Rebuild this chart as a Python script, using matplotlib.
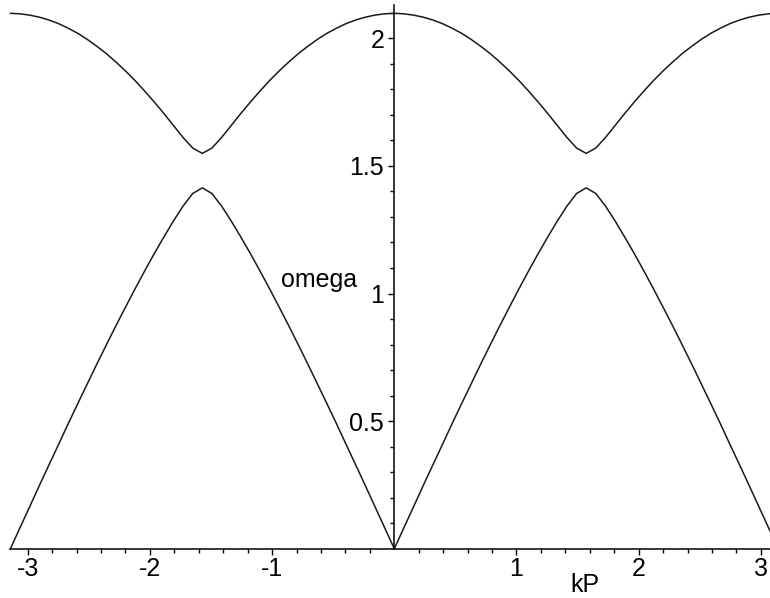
import matplotlib
matplotlib.use("Agg")
from matplotlib import pyplot as plt
import numpy as np

plt.rcParams['font.family'] = ['Liberation Sans', 'DejaVu Sans']

# wave number times lattice spacing, -pi .. pi
kP = [-3.1416, -3.0631, -2.9845, -2.9060, -2.8274, -2.7489, -2.6704, -2.5918, -2.5133, -2.4347,
      -2.3562, -2.2777, -2.1991, -2.1206, -2.0420, -1.9635, -1.8850, -1.8064, -1.7279, -1.6493,
      -1.5708, -1.4923, -1.4137, -1.3352, -1.2566, -1.1781, -1.0996, -1.0210, -0.9425, -0.8639,
      -0.7854, -0.7069, -0.6283, -0.5498, -0.4712, -0.3927, -0.3142, -0.2356, -0.1571, -0.0785,
      0.0,
      0.0785, 0.1571, 0.2356, 0.3142, 0.3927, 0.4712, 0.5498, 0.6283, 0.7069, 0.7854,
      0.8639, 0.9425, 1.0210, 1.0996, 1.1781, 1.2566, 1.3352, 1.4137, 1.4923, 1.5708,
      1.6493, 1.7279, 1.8064, 1.8850, 1.9635, 2.0420, 2.1206, 2.1991, 2.2777, 2.3562,
      2.4347, 2.5133, 2.5918, 2.6704, 2.7489, 2.8274, 2.9060, 2.9845, 3.0631, 3.1416]

# upper (optical) branch
omega_opt = [2.098, 2.096, 2.091, 2.083, 2.072, 2.058, 2.040, 2.020, 1.996, 1.969,
             1.940, 1.907, 1.872, 1.834, 1.793, 1.750, 1.705, 1.658, 1.611, 1.570,
             1.549, 1.570, 1.611, 1.658, 1.705, 1.750, 1.793, 1.834, 1.872, 1.907,
             1.940, 1.969, 1.996, 2.020, 2.040, 2.058, 2.072, 2.083, 2.091, 2.096,
             2.098,
             2.096, 2.091, 2.083, 2.072, 2.058, 2.040, 2.020, 1.996, 1.969, 1.940,
             1.907, 1.872, 1.834, 1.793, 1.750, 1.705, 1.658, 1.611, 1.570, 1.549,
             1.570, 1.611, 1.658, 1.705, 1.750, 1.793, 1.834, 1.872, 1.907, 1.940,
             1.969, 1.996, 2.020, 2.040, 2.058, 2.072, 2.083, 2.091, 2.096, 2.098]

# lower (acoustic) branch
omega_ac = [0.000, 0.082, 0.164, 0.246, 0.327, 0.407, 0.488, 0.567, 0.645, 0.723,
            0.799, 0.874, 0.947, 1.019, 1.089, 1.157, 1.222, 1.285, 1.343, 1.392,
            1.414, 1.392, 1.343, 1.285, 1.222, 1.157, 1.089, 1.019, 0.947, 0.874,
            0.799, 0.723, 0.645, 0.567, 0.488, 0.407, 0.327, 0.246, 0.164, 0.082,
            0.000,
            0.082, 0.164, 0.246, 0.327, 0.407, 0.488, 0.567, 0.645, 0.723, 0.799,
            0.874, 0.947, 1.019, 1.089, 1.157, 1.222, 1.285, 1.343, 1.392, 1.414,
            1.392, 1.343, 1.285, 1.222, 1.157, 1.089, 1.019, 0.947, 0.874, 0.799,
            0.723, 0.645, 0.567, 0.488, 0.407, 0.327, 0.246, 0.164, 0.082, 0.000]

x_major = [-3, -2, -1, 1, 2, 3]
y_major = [0.5, 1, 1.5, 2]

fig = plt.figure(figsize=(7.7, 5.98), dpi=100)
ax = fig.add_axes([0.0135, 0.0824, 0.9971, 0.909])

ax.plot(kP, omega_opt, color='#1a1a1a', linewidth=1.1, clip_on=False)
ax.plot(kP, omega_ac, color='#1a1a1a', linewidth=1.1, clip_on=False)

ax.set_xlim(-np.pi, np.pi)
ax.set_ylim(0, 2.13)

# maple-style axes crossing at the origin
ax.spines['top'].set_visible(False)
ax.spines['right'].set_visible(False)
ax.spines['left'].set_position(('data', 0))
ax.spines['bottom'].set_position(('data', 0))
for s in ('left', 'bottom'):
    ax.spines[s].set_linewidth(1.1)
    ax.spines[s].set_color('black')

ax.set_xticks(x_major)
ax.set_xticklabels([str(v) for v in x_major])
ax.set_xticks([v for v in np.arange(-3.0, 3.01, 0.2) if abs(v - round(v)) > 0.01], minor=True)
ax.set_yticks(y_major)
ax.set_yticklabels(['0.5', '1', '1.5', '2'])
ax.set_yticks([v for v in np.arange(0.1, 2.11, 0.1) if abs(v * 2 - round(v * 2)) > 0.01], minor=True)

ax.tick_params(axis='both', which='major', direction='out', length=4.3, width=1.0,
               labelsize=18, color='black')
ax.tick_params(axis='both', which='minor', direction='out', length=2.8, width=1.0, color='black')
ax.tick_params(axis='x', which='major', pad=1.5)
ax.tick_params(axis='y', which='major', pad=3)

ax.text(1.56, -0.142, 'kP', fontsize=18, ha='center', va='center', clip_on=False)
ax.text(-0.616, 1.025, 'omega', fontsize=18, ha='center', va='baseline')

fig.savefig('out.png', dpi=100)
